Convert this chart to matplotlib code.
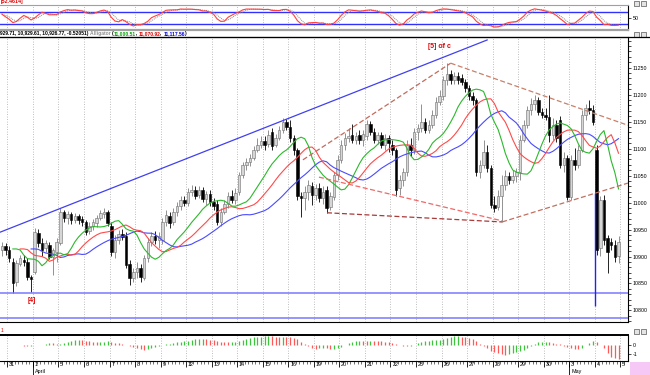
import numpy as np
import pandas as pd
import matplotlib
matplotlib.use("Agg")
import matplotlib.pyplot as plt
from matplotlib.transforms import blended_transform_factory as blend
from matplotlib.patches import Rectangle

W, H = 650, 375
FONT = "Liberation Sans"

# hourly bars, 7 per session (first two are the tail of Mar 30)
opens = [
    10912, 10919,
    10912, 10890, 10853, 10886, 10894, 10890, 10862,  # Mar 31
    10871, 10943, 10925, 10916, 10921, 10899, 10908,  # Apr 1
    10925, 10982, 10971, 10979, 10968, 10975, 10969,  # Apr 5
    10964, 10947, 10956, 10962, 10971, 10979, 10982,  # Apr 6
    10956, 10908, 10931, 10942, 10938, 10886, 10860,  # Apr 7
    10871, 10879, 10860, 10897, 10927, 10938, 10931,  # Apr 8
    10931, 10964, 10975, 10964, 10982, 10993, 11005,  # Apr 9
    10999, 11019, 11023, 11014, 11023, 11006, 11016,  # Apr 12
    11001, 10997, 10964, 10982, 10997, 11012, 11005,  # Apr 13
    11019, 11051, 11069, 11075, 11082, 11097, 11106,  # Apr 14
    11114, 11108, 11131, 11106, 11119, 11134, 11149,  # Apr 15
    11140, 11119, 11097, 11012, 11008, 11019, 11031,  # Apr 16
    11014, 11027, 11008, 11023, 10992, 11010, 11051,  # Apr 19
    11079, 11106, 11119, 11125, 11116, 11125, 11116,  # Apr 20
    11123, 11145, 11131, 11116, 11125, 11106, 11119,  # Apr 21
    11106, 11097, 11027, 11042, 11056, 11106, 11097,  # Apr 22
    11131, 11138, 11149, 11134, 11143, 11162, 11186,  # Apr 23
    11197, 11227, 11238, 11227, 11234, 11231, 11223,  # Apr 26
    11212, 11197, 11190, 11056, 11069, 11093, 11064,  # Apr 27
    10995, 10992, 11012, 11032, 11049, 11042, 11049,  # Apr 28
    11056, 11116, 11143, 11171, 11182, 11190, 11168,  # Apr 29
    11162, 11158, 11125, 11143, 11153, 11069, 11082,  # Apr 30
    11010, 11079, 11069, 11097, 11162, 11175, 11171,  # May 3
    11097, 10916, 11005, 10934, 10927, 10921, 10901,  # May 4
]
closes = [
    10919, 10912,
    10897, 10851, 10888, 10897, 10890, 10862, 10858,
    10945, 10925, 10912, 10925, 10899, 10912, 10927,
    10982, 10971, 10979, 10968, 10975, 10968, 10964,
    10945, 10956, 10964, 10971, 10981, 10982, 10962,
    10908, 10931, 10942, 10936, 10884, 10860, 10871,
    10879, 10862, 10897, 10927, 10938, 10931, 10938,
    10964, 10977, 10962, 10982, 10993, 11005, 10999,
    11019, 11023, 11012, 11023, 11006, 11016, 11001,
    10993, 10964, 10982, 10997, 11012, 11005, 11018,
    11051, 11069, 11075, 11082, 11097, 11106, 11114,
    11106, 11125, 11105, 11119, 11134, 11149, 11140,
    11119, 11097, 11012, 11008, 11019, 11032, 11014,
    11027, 11008, 11019, 10990, 11012, 11051, 11079,
    11106, 11119, 11123, 11116, 11123, 11116, 11127,
    11145, 11131, 11116, 11125, 11106, 11119, 11110,
    11097, 11023, 11042, 11056, 11106, 11097, 11131,
    11138, 11149, 11134, 11143, 11162, 11186, 11197,
    11227, 11238, 11227, 11234, 11227, 11223, 11212,
    11197, 11190, 11056, 11069, 11093, 11064, 10995,
    10990, 11012, 11032, 11049, 11042, 11049, 11056,
    11116, 11143, 11171, 11182, 11190, 11168, 11162,
    11158, 11125, 11143, 11119, 11069, 11082, 11010,
    11079, 11069, 11097, 11162, 11175, 11171, 11149,
    10912, 11005, 10931, 10908, 10921, 10899, 10927,
]
highs = [
    10927, 10925,
    10919, 10897, 10894, 10903, 10903, 10897, 10866,
    10953, 10951, 10934, 10931, 10927, 10916, 10934,
    10990, 10986, 10984, 10982, 10981, 10979, 10975,
    10968, 10964, 10969, 10977, 10986, 10990, 10986,
    10964, 10940, 10949, 10951, 10945, 10894, 10879,
    10890, 10886, 10903, 10934, 10945, 10947, 10945,
    10971, 10986, 10982, 10990, 11001, 11012, 11012,
    11027, 11032, 11031, 11031, 11029, 11021, 11023,
    11008, 11005, 10990, 11005, 11019, 11023, 11027,
    11056, 11075, 11082, 11090, 11105, 11119, 11123,
    11123, 11134, 11138, 11127, 11142, 11156, 11155,
    11153, 11125, 11101, 11019, 11031, 11042, 11038,
    11034, 11036, 11031, 11031, 11019, 11056, 11088,
    11116, 11129, 11138, 11145, 11131, 11134, 11134,
    11153, 11151, 11138, 11131, 11131, 11127, 11125,
    11116, 11101, 11051, 11064, 11116, 11119, 11138,
    11145, 11182, 11156, 11153, 11171, 11195, 11208,
    11234, 11258, 11245, 11242, 11242, 11238, 11229,
    11218, 11205, 11194, 11079, 11116, 11106, 11069,
    11012, 11023, 11051, 11060, 11056, 11060, 11064,
    11125, 11153, 11179, 11194, 11199, 11195, 11175,
    11175, 11199, 11156, 11153, 11160, 11093, 11088,
    11088, 11101, 11106, 11171, 11182, 11190, 11181,
    11106, 11012, 11014, 10940, 10934, 10931, 10938,
]
lows = [
    10901, 10903,
    10890, 10832, 10845, 10882, 10882, 10856, 10834,
    10868, 10918, 10901, 10908, 10895, 10866, 10890,
    10921, 10964, 10960, 10960, 10962, 10960, 10956,
    10940, 10942, 10949, 10955, 10968, 10971, 10956,
    10901, 10897, 10923, 10931, 10879, 10847, 10853,
    10860, 10853, 10856, 10890, 10919, 10923, 10916,
    10923, 10956, 10953, 10958, 10975, 10986, 10993,
    10993, 11012, 11006, 11008, 11001, 10995, 10993,
    10986, 10958, 10956, 10979, 10990, 10999, 10997,
    11014, 11045, 11060, 11068, 11079, 11093, 11101,
    11097, 11103, 11097, 11103, 11116, 11129, 11134,
    11112, 11088, 11005, 10973, 10986, 11005, 10995,
    11005, 11001, 10997, 10981, 10986, 11005, 11042,
    11073, 11097, 11112, 11110, 11108, 11108, 11105,
    11116, 11125, 11110, 11108, 11101, 11097, 11093,
    11088, 11012, 11014, 11031, 11049, 11086, 11090,
    11116, 11131, 11129, 11129, 11138, 11156, 11181,
    11190, 11218, 11219, 11219, 11219, 11218, 11205,
    11190, 11181, 11049, 11045, 11064, 11056, 10990,
    10982, 10986, 10964, 11023, 11034, 11036, 11038,
    11042, 11112, 11138, 11162, 11171, 11162, 11156,
    11153, 11112, 11116, 11112, 11064, 11056, 11005,
    11005, 11060, 11064, 11093, 11153, 11164, 11143,
    10903, 10901, 10921, 10869, 10912, 10890, 10888,
]

day_labels = ["31", "1", "5", "6", "7", "8", "9", "12", "13", "14", "15", "16",
              "19", "20", "21", "22", "23", "26", "27", "28", "29", "30", "3", "4", "5"]
month_labels = {1: "April", 22: "May"}
price_ticks = [10800, 10850, 10900, 10950, 11000, 11050, 11100, 11150, 11200, 11250]

# drawn studies: (bar, price) pairs
trend_line = [(-0.5, 10945), (133.0, 11301)]
support_levels = [10833, 10787]
spike = (162.6, 10808, 11018)
diamond = [
    ([(82.5, 11079), (123.0, 11258)], "#c46a5c"),
    ([(123.0, 11258), (171.6, 11143)], "#c8806a"),
    ([(86.9, 11047), (137.1, 10966)], "#f26868"),
    ([(89.1, 10981), (137.1, 10964)], "#a83a3a"),
    ([(137.1, 10964), (171.6, 11036)], "#c07060"),
]
wave_labels = [("[5] of c", 119.9, 11288), ("[4]", 8.2, 10818)]
header_parts = [("929.71, 10,929.61, 10,926.77, -0.52051) ", "black"),
                ("Alligator ", "#909090"), ("(", "black"), ("11,000.51", "#00a000"),
                (", ", "black"), ("11,070.92", "#e00000"), (", ", "black"),
                ("11,117.56", "#0000e0"), (")", "black")]

o = np.array(opens, float)
c = np.array(closes, float)
h = np.array(highs, float)
l = np.array(lows, float)
idx = np.arange(len(c))
edges = 1.5 + 7 * np.arange(len(day_labels))
XLIM = (-0.52, 171.6)

fig = plt.figure(figsize=(W / 100, H / 100), dpi=100)
fig.patch.set_facecolor("white")


def box(top, bottom, right=628):
    return [0, 1 - bottom / H, right / W, (bottom - top) / H]


def fpt(x, y):
    return x / W, 1 - y / H


ax_osc = fig.add_axes(box(5, 30))
ax = fig.add_axes(box(37, 322))
ax_ao = fig.add_axes(box(335, 361))

for a in (ax_osc, ax, ax_ao):
    a.set_xlim(*XLIM)
    a.set_facecolor("white")
    for e in edges:
        a.axvline(e, color="#a8a8a8", lw=0.6, ls=(0, (1, 2)), zorder=0)
    a.spines["left"].set_visible(False)
    a.yaxis.tick_right()
    a.tick_params(axis="y", which="both", direction="out", labelsize=3.8, length=2,
                  width=0.5, pad=1.5)

# ---- main price panel
ax.set_ylim(10778.7, 11306.5)
up = c >= o
ax.vlines(idx[up], l[up], h[up], color="#808080", lw=0.6, zorder=2)
ax.vlines(idx[~up], l[~up], h[~up], color="black", lw=0.6, zorder=2)
ax.bar(idx[up], (c - o)[up], bottom=o[up], width=0.7, color="#d6d6d6",
       edgecolor="#6e6e6e", lw=0.4, zorder=3)
ax.bar(idx[~up], (o - c)[~up], bottom=c[~up], width=0.7, color="black",
       edgecolor="black", lw=0.4, zorder=3)

med = pd.Series((h + l) / 2)


def smma(s, n):
    return s.ewm(alpha=1 / n, adjust=False).mean()


jaw = smma(med, 13).shift(8)
teeth = smma(med, 8).shift(5)
lips = smma(med, 5).shift(3)
ax.plot(idx, jaw, color="#4a4aff", lw=0.8, zorder=4)
ax.plot(idx, teeth, color="#ff4a4a", lw=0.8, zorder=4)
ax.plot(idx, lips, color="#2cb82c", lw=0.8, zorder=4)

(x0, y0), (x1, y1) = trend_line
ax.plot([x0, x1], [y0, y1], color="#4040f0", lw=0.9, zorder=5)
for lev in support_levels:
    ax.axhline(lev, color="#7878ff", lw=1.1, zorder=5)
ax.vlines(spike[0], spike[1], spike[2], color="#2020ff", lw=1.0, zorder=5)
for pts, col in diamond:
    ax.plot([p[0] for p in pts], [p[1] for p in pts], color=col, lw=0.9,
            ls=(0, (4, 2)), zorder=5)
for txt, bx, by in wave_labels:
    ax.text(bx, by, txt, color="#e00000", fontsize=5, fontweight="bold",
            ha="center", va="center", fontfamily=FONT)

ax.set_yticks(price_ticks)
ax.set_yticklabels([str(p) for p in price_ticks], fontfamily=FONT)
ax.set_yticks(np.arange(10780, 11310, 10), minor=True)
ax.set_xticks([])
for s in ("top", "bottom", "right"):
    ax.spines[s].set_linewidth(0.8)

# ---- stochastic panel
lo14 = pd.Series(l).rolling(14, min_periods=1).min()
hi14 = pd.Series(h).rolling(14, min_periods=1).max()
k = 100 * (pd.Series(c) - lo14) / (hi14 - lo14)
k_slow = k.rolling(3, min_periods=1).mean()
d_slow = k_slow.rolling(3, min_periods=1).mean()
ax_osc.set_ylim(-10, 115)
ax_osc.axhline(80, color="#3030ff", lw=1.0)
ax_osc.axhline(20, color="#3030ff", lw=1.0)
ax_osc.plot(idx, d_slow, color="#8a8a8a", lw=0.7, ls=(0, (1, 1)))
ax_osc.plot(idx, k_slow, color="#ff4040", lw=0.8)
ax_osc.set_yticks([50])
ax_osc.set_yticklabels(["50"], fontfamily=FONT)
ax_osc.set_xticks([])
for s in ("top", "bottom"):
    ax_osc.spines[s].set_color("#a0a0a0")
ax_osc.spines["bottom"].set_linewidth(1.6)

# ---- awesome oscillator panel
ao = med.rolling(5, min_periods=1).mean() - med.rolling(34, min_periods=1).mean()
rising = ao.diff().fillna(0) >= 0
ax_ao.vlines(idx, 0, ao, colors=np.where(rising, "#3cc43c", "#ff5858"), lw=0.9)
ax_ao.set_ylim(-178, 111)
ax_ao.set_yticks([0, -100])
ax_ao.set_yticklabels(["0", "-1"], fontfamily=FONT)
ax_ao.spines["top"].set_linewidth(1.4)
ax_ao.set_xticks(edges)
ax_ao.set_xticks(np.arange(0.5, 171, 1), minor=True)
ax_ao.tick_params(axis="x", which="major", length=4, width=0.6, labelbottom=False)
ax_ao.tick_params(axis="x", which="minor", length=2, width=0.4)

tr = blend(ax_ao.transData, fig.transFigure)
for e, lab in zip(edges, day_labels):
    ax_ao.text(e + 0.5, 1 - 365 / H, lab, transform=tr, fontsize=3.9,
               fontfamily=FONT, ha="left", va="center", clip_on=False)
for k_day, lab in month_labels.items():
    e = edges[k_day]
    ax_ao.plot([e, e], [1 - 361 / H, 1 - 375 / H], transform=tr, color="black",
               lw=0.6, clip_on=False)
    ax_ao.text(e + 0.5, 1 - 371 / H, lab, transform=tr, fontsize=3.9,
               fontfamily=FONT, ha="left", va="center", clip_on=False)

# ---- header strips, labels and window buttons
fig.add_artist(plt.Line2D([0, 1], [1 - 37 / H] * 2, color="black", lw=0.9))
fig.text(*fpt(1, 1.5), "[52.4614]", color="#e00000", fontsize=3.8,
         fontweight="bold", fontfamily=FONT, va="center", ha="left")
fig.text(*fpt(1, 331), "1", color="#e00000", fontsize=3.6, fontfamily=FONT,
         va="center", ha="left")
renderer = fig.canvas.get_renderer()
xpos = 0.0
for txt, col in header_parts:
    t = fig.text(xpos / W, 1 - 33.5 / H, txt, color=col, fontsize=3.6,
                 fontweight="bold", fontfamily=FONT, va="center", ha="left")
    xpos = t.get_window_extent(renderer).x1

for by in (0.5, 31.5, 328.5):
    for bx in (633.5, 640.5):
        fig.add_artist(Rectangle(fpt(bx, by + 5), 5 / W, 5 / H, facecolor="#e4e4e4",
                                 edgecolor="#303030", lw=0.4))
fig.add_artist(Rectangle(fpt(630, 375), 20 / W, 13 / H, facecolor="#f6c8f6",
                         edgecolor="none"))

fig.savefig("out.png", dpi=100, facecolor="white")
